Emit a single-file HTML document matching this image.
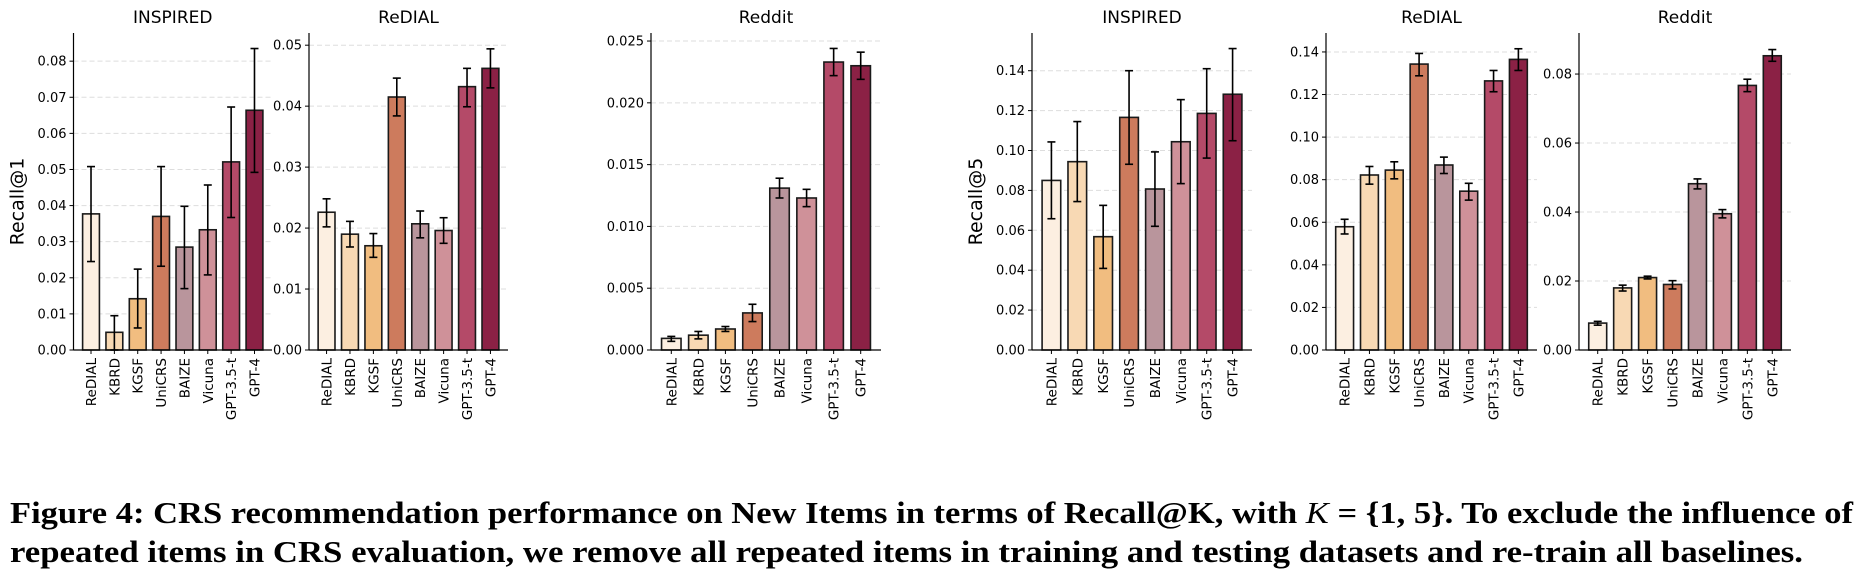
<!DOCTYPE html>
<html><head><meta charset="utf-8"><style>
html,body{margin:0;padding:0;background:#fff;width:1870px;height:579px;overflow:hidden}
svg{display:block}
.cap{font-family:"Liberation Serif",serif;font-weight:bold;font-size:31px;fill:#000}
</style></head><body>
<svg id="fig" width="1870" height="579" viewBox="0 0 1870 579" xmlns="http://www.w3.org/2000/svg">
<text class="cap" x="10" y="523" textLength="1843" lengthAdjust="spacingAndGlyphs">Figure 4: CRS recommendation performance on New Items in terms of Recall@K, with <tspan font-style="italic" font-weight="normal">K</tspan> = {1, 5}. To exclude the influence of</text>
<text class="cap" x="10" y="562" textLength="1793" lengthAdjust="spacingAndGlyphs">repeated items in CRS evaluation, we remove all repeated items in training and testing datasets and re-train all baselines.</text>
</svg>
<script>
const categories = ["ReDIAL","KBRD","KGSF","UniCRS","BAIZE","Vicuna","GPT-3.5-t","GPT-4"];
const colors = ["#fcefe1","#f8d9b4","#f1bd80","#cd7b5d","#b9959c","#cf9199","#b44a68","#8b2145"];
const titles = ["INSPIRED","ReDIAL","Reddit","INSPIRED","ReDIAL","Reddit"];
const r1InspiredVals = [0.0377,0.0049,0.0142,0.0370,0.0285,0.0333,0.0521,0.0664];
const r1InspiredLo = [0.0245,0.0,0.0061,0.0232,0.0170,0.0208,0.0367,0.0492];
const r1InspiredHi = [0.0508,0.0095,0.0224,0.0508,0.0398,0.0457,0.0673,0.0835];
const r1RedialVals = [0.0226,0.0190,0.0171,0.0415,0.0207,0.0196,0.0432,0.0462];
const r1RedialLo = [0.0202,0.0169,0.0152,0.0384,0.0184,0.0175,0.0399,0.0430];
const r1RedialHi = [0.0248,0.0211,0.0191,0.0446,0.0228,0.0217,0.0462,0.0494];
const r1RedditVals = [0.00094,0.0012,0.0017,0.0030,0.0131,0.0123,0.0233,0.0230];
const r1RedditLo = [0.0007,0.0009,0.0015,0.0023,0.0123,0.0116,0.0222,0.0219];
const r1RedditHi = [0.0011,0.0015,0.0019,0.0037,0.0139,0.0130,0.0244,0.0241];
const r5InspiredVals = [0.0850,0.0944,0.0568,0.1166,0.0807,0.1044,0.1186,0.1282];
const r5InspiredLo = [0.0658,0.0744,0.0409,0.0931,0.0620,0.0834,0.0962,0.1049];
const r5InspiredHi = [0.1043,0.1145,0.0725,0.1400,0.0993,0.1255,0.1410,0.1511];
const r5RedialVals = [0.0579,0.0822,0.0845,0.1343,0.0869,0.0746,0.1264,0.1365];
const r5RedialLo = [0.0545,0.0779,0.0804,0.1288,0.0829,0.0704,0.1213,0.1313];
const r5RedialHi = [0.0614,0.0862,0.0884,0.1393,0.0906,0.0783,0.1313,0.1415];
const r5RedditVals = [0.0078,0.0180,0.0210,0.0190,0.0482,0.0395,0.0767,0.0853];
const r5RedditLo = [0.0072,0.0171,0.0206,0.0177,0.0467,0.0383,0.0749,0.0837];
const r5RedditHi = [0.0083,0.0188,0.0214,0.0201,0.0496,0.0407,0.0785,0.0871];
const ticks1 = [0,0.01,0.02,0.03,0.04,0.05,0.06,0.07,0.08];
const ticks2 = [0,0.01,0.02,0.03,0.04,0.05];
const ticks3 = [0,0.005,0.01,0.015,0.02,0.025];
const ticks4 = [0,0.02,0.04,0.06,0.08,0.10,0.12,0.14];
const ticks5 = [0,0.02,0.04,0.06,0.08,0.10,0.12,0.14];
const ticks6 = [0,0.02,0.04,0.06,0.08];

const NS="http://www.w3.org/2000/svg";
const svg=document.getElementById('fig');
function mk(tag,attrs,parent){const e=document.createElementNS(NS,tag);for(const k in attrs)e.setAttribute(k,attrs[k]);(parent||svg).appendChild(e);return e;}
const TOP=33,BOT=350;
const panels=[
 {l:73.5,r:272,ymax:0.0878,ticks:ticks1,dec:2,v:r1InspiredVals,lo:r1InspiredLo,hi:r1InspiredHi,ylab:"Recall@1"},
 {l:309,r:508,ymax:0.0520,ticks:ticks2,dec:2,v:r1RedialVals,lo:r1RedialLo,hi:r1RedialHi},
 {l:651,r:881,ymax:0.02565,ticks:ticks3,dec:3,v:r1RedditVals,lo:r1RedditLo,hi:r1RedditHi},
 {l:1032,r:1252,ymax:0.1589,ticks:ticks4,dec:2,v:r5InspiredVals,lo:r5InspiredLo,hi:r5InspiredHi,ylab:"Recall@5"},
 {l:1326,r:1537,ymax:0.1489,ticks:ticks5,dec:2,v:r5RedialVals,lo:r5RedialLo,hi:r5RedialHi},
 {l:1579,r:1791,ymax:0.0919,ticks:ticks6,dec:2,v:r5RedditVals,lo:r5RedditLo,hi:r5RedditHi}
];
panels.forEach((p,pi)=>{
 const g=mk('g',{});
 
 
 const y=v=>BOT-(v/p.ymax)*(BOT-TOP);
 const n=categories.length;
 const step=(p.r-p.l)/(n+0.5);
 const x=i=>p.l+step*(0.75+i);
 const bw=step*0.72;
 // grid & ticks
 p.ticks.forEach(t=>{
  const yy=y(t);
  if(t>0){const gl=mk('line',{x1:p.l,x2:p.r,y1:yy,y2:yy,stroke:'#ddd','stroke-width':1,'stroke-dasharray':'5,3'},g);
   }
  mk('line',{x1:p.l-4,x2:p.l,y1:yy,y2:yy,stroke:'#000','stroke-width':1},g);
  const tl=mk('text',{x:p.l-7,y:yy+4.5,'text-anchor':'end','font-family':'DejaVu Sans, sans-serif','font-size':'13',fill:'#000'},g);
  tl.textContent=t.toFixed(p.dec);
  
 });
 // bars
 categories.forEach((c,i)=>{
  const v=p.v[i];
  const b=mk('rect',{x:x(i)-bw/2,y:y(v),width:bw,height:BOT-y(v),fill:colors[i],stroke:'#1a1a1a','stroke-width':1.6},g);
  
  
  const eg=mk('g',{stroke:'#000','stroke-width':1.6},g);
  
  
  mk('line',{x1:x(i),x2:x(i),y1:y(p.lo[i]),y2:y(p.hi[i])},eg);
  mk('line',{x1:x(i)-4,x2:x(i)+4,y1:y(p.lo[i]),y2:y(p.lo[i])},eg);
  mk('line',{x1:x(i)-4,x2:x(i)+4,y1:y(p.hi[i]),y2:y(p.hi[i])},eg);
  mk('line',{x1:x(i),x2:x(i),y1:BOT,y2:BOT+4,stroke:'#000'},g);
  const xl=mk('text',{transform:`translate(${x(i)+5},${BOT+8}) rotate(-90)`,'text-anchor':'end','font-family':'DejaVu Sans, sans-serif','font-size':'13.5',fill:'#000'},g);
  xl.textContent=c;
  
 });
 // spines
 mk('line',{x1:p.l,x2:p.l,y1:TOP,y2:BOT,stroke:'#000','stroke-width':1.2},g);
 mk('line',{x1:p.l,x2:p.r,y1:BOT,y2:BOT,stroke:'#000','stroke-width':1.2},g);
 const tt=mk('text',{x:(p.l+p.r)/2,y:23,'text-anchor':'middle','font-family':'DejaVu Sans, sans-serif','font-size':'17',fill:'#000'},g);
 tt.textContent=titles[pi];
 
 if(p.ylab){
  const yl=mk('text',{transform:`translate(${p.l-50},${(TOP+BOT)/2+10}) rotate(-90)`,'text-anchor':'middle','font-family':'DejaVu Sans, sans-serif','font-size':'19',fill:'#000'},g);
  yl.textContent=p.ylab;
  
 }
});
</script>
</body></html>
